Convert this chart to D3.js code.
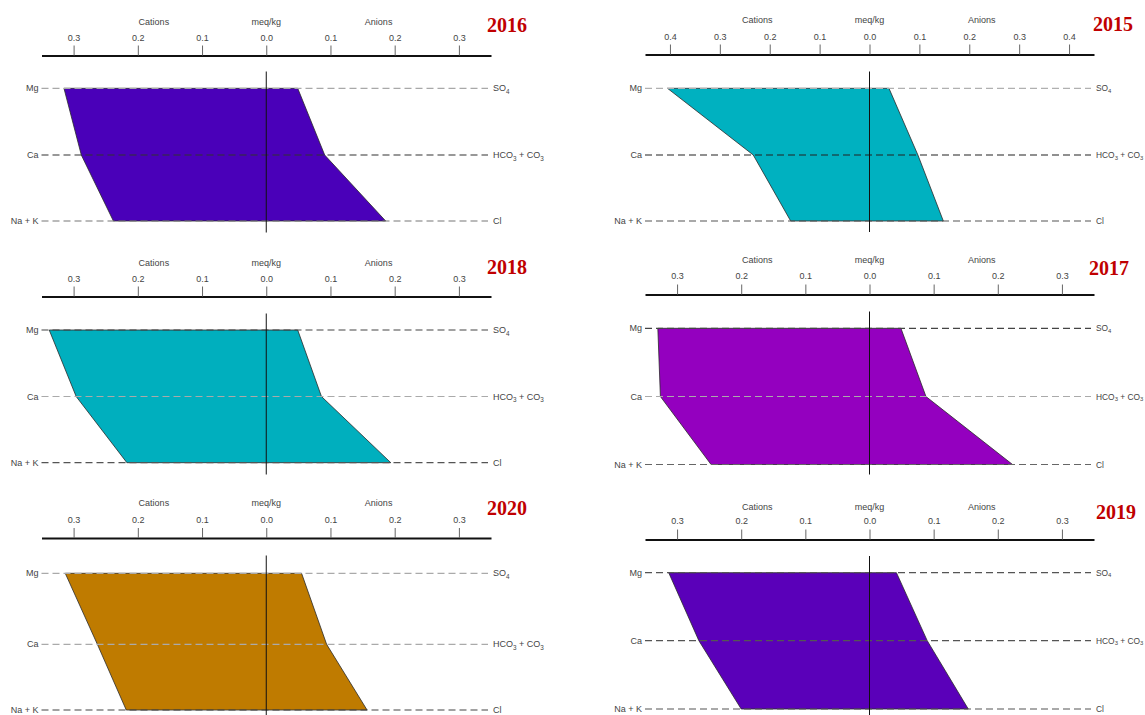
<!DOCTYPE html>
<html>
<head>
<meta charset="utf-8">
<script src="https://cdn.jsdelivr.net/npm/d3@7"></script>
<style>
  html, body { margin: 0; padding: 0; background: #ffffff; }
  svg { display: block; }
</style>
</head>
<body>
<div id="chart"></div>
<script>
// ---------- DATA ----------
const years = ["2016", "2015", "2018", "2017", "2020", "2019"];
const cationNames = ["Mg", "Ca", "Na + K"];
const anionNames = [["SO", "4"], ["HCO", "3", " + CO", "3"], ["Cl"]];
// meq/kg values, order Mg, Ca, Na+K
const cations2016 = [0.315, 0.288, 0.238];
const cations2015 = [0.405, 0.233, 0.158];
const cations2018 = [0.338, 0.296, 0.217];
const cations2017 = [0.330, 0.326, 0.247];
const cations2020 = [0.313, 0.263, 0.218];
const cations2019 = [0.313, 0.266, 0.200];
// order SO4, HCO3+CO3, Cl
const anions2016 = [0.049, 0.091, 0.186];
const anions2015 = [0.039, 0.097, 0.148];
const anions2018 = [0.049, 0.086, 0.194];
const anions2017 = [0.049, 0.088, 0.223];
const anions2020 = [0.055, 0.094, 0.157];
const anions2019 = [0.042, 0.090, 0.154];
const axisMax = [0.35, 0.45, 0.35, 0.35, 0.35, 0.35];
const ticks035 = [-0.3, -0.2, -0.1, 0.0, 0.1, 0.2, 0.3];
const ticks045 = [-0.4, -0.3, -0.2, -0.1, 0.0, 0.1, 0.2, 0.3, 0.4];
const tickSets = [ticks035, ticks045, ticks035, ticks035, ticks035, ticks035];
const cationSets = [cations2016, cations2015, cations2018, cations2017, cations2020, cations2019];
const anionSets = [anions2016, anions2015, anions2018, anions2017, anions2020, anions2019];

// ---------- STYLE / LAYOUT ----------
const fills = ["#4a00b9", "#00b1c0", "#00afbe", "#9400bf", "#bf7b00", "#5a00b9"];
const dashColors = [
  ["#a8a8a8", "#333333", "#777777"],
  ["#b0b0b0", "#222222", "#555555"],
  ["#444444", "#aaaaaa", "#555555"],
  ["#444444", "#aaaaaa", "#666666"],
  ["#aaaaaa", "#aaaaaa", "#444444"],
  ["#555555", "#555555", "#555555"]
];
const layouts = [
  {x0: 41.5, x1: 491, titleX: 507, titleY: 25, labY: 22, tickY: 38, axisY: 55.5, rows: [88.3, 155, 221], vTop: 71.5, vBot: 232.5, fs: 9},
  {x0: 645, x1: 1094, titleX: 1113, titleY: 24, labY: 20, tickY: 36.5, axisY: 54.5, rows: [88.3, 155, 221], vTop: 71.5, vBot: 232, fs: 8.4},
  {x0: 41.5, x1: 491, titleX: 507, titleY: 267, labY: 263, tickY: 279, axisY: 296.5, rows: [330, 396.5, 462.7], vTop: 313.5, vBot: 474.5, fs: 9},
  {x0: 645, x1: 1094, titleX: 1109, titleY: 268, labY: 259.5, tickY: 276, axisY: 294.5, rows: [328.3, 396.5, 464.5], vTop: 311.5, vBot: 474.5, fs: 8.4},
  {x0: 41.5, x1: 491, titleX: 507, titleY: 508, labY: 502.5, tickY: 519.5, axisY: 538, rows: [573.3, 644.3, 710], vTop: 555.5, vBot: 715, fs: 9},
  {x0: 645, x1: 1094, titleX: 1116, titleY: 512, labY: 506.5, tickY: 521, axisY: 539.5, rows: [572.7, 640.7, 709], vTop: 556, vBot: 715, fs: 8.4}
];

const W = 1145, H = 715;
const svg = d3.select("#chart").append("svg")
  .attr("width", W).attr("height", H)
  .attr("viewBox", `0 0 ${W} ${H}`);
svg.append("rect").attr("width", W).attr("height", H).attr("fill", "#ffffff");

const sans = "Liberation Sans, Arial, sans-serif";
const fmt = d3.format(".1f");

years.forEach((yr, i) => {
  const L = layouts[i];
  const m = axisMax[i];
  const x = d3.scaleLinear().domain([-m, m]).range([L.x0, L.x1]);
  const yRow = (k) => L.rows[k];
  const g = svg.append("g").attr("class", "panel-" + yr);

  // Top axis
  const axis = d3.axisTop(x).tickValues(tickSets[i])
    .tickFormat(d => fmt(Math.abs(d))).tickSize(10).tickSizeOuter(0);
  const ax = g.append("g").attr("transform", `translate(0,${L.axisY})`).call(axis);
  ax.select(".domain").attr("stroke", "#111").attr("stroke-width", 2.2);
  ax.selectAll(".tick line").attr("stroke", "#666").attr("stroke-width", 1);
  ax.selectAll(".tick text")
    .attr("font-family", sans).attr("font-size", 9).attr("fill", "#444")
    .attr("y", null).attr("dy", null)
    .attr("transform", `translate(0,${L.tickY - L.axisY})`)
    .attr("dominant-baseline", "central");

  // header labels
  const headers = [["Cations", x(-m / 2)], ["meq/kg", x(0)], ["Anions", x(m / 2)]];
  g.selectAll("text.hdr").data(headers).join("text").attr("class", "hdr")
    .attr("x", d => d[1]).attr("y", L.labY)
    .attr("text-anchor", "middle").attr("dominant-baseline", "central")
    .attr("font-family", sans).attr("font-size", 9).attr("fill", "#444")
    .text(d => d[0]);

  // polygon
  const c = cationSets[i], a = anionSets[i];
  const pts = [
    [x(-c[0]), yRow(0)], [x(a[0]), yRow(0)], [x(a[1]), yRow(1)], [x(a[2]), yRow(2)],
    [x(-c[2]), yRow(2)], [x(-c[1]), yRow(1)]
  ];
  g.append("path")
    .attr("d", d3.line()(pts) + "Z")
    .attr("fill", fills[i]).attr("stroke", "#2a2a2a").attr("stroke-width", 0.8)
    .attr("stroke-linejoin", "miter");

  // dashed row lines
  cationNames.forEach((nm, k) => {
    g.append("line")
      .attr("x1", L.x0).attr("x2", L.x1 - 3)
      .attr("y1", yRow(k)).attr("y2", yRow(k))
      .attr("stroke", dashColors[i][k]).attr("stroke-width", 1.2)
      .attr("stroke-dasharray", "7,4");
  });

  // center line
  g.append("line").attr("x1", x(0)).attr("x2", x(0))
    .attr("y1", L.vTop).attr("y2", L.vBot)
    .attr("stroke", "#111").attr("stroke-width", 1);

  // left labels
  g.selectAll("text.cat").data(cationNames).join("text").attr("class", "cat")
    .attr("x", L.x0 - 3).attr("y", (d, k) => yRow(k))
    .attr("text-anchor", "end").attr("dominant-baseline", "central")
    .attr("font-family", sans).attr("font-size", 9).attr("fill", "#444")
    .text(d => d);

  // right labels with subscripts
  anionNames.forEach((parts, k) => {
    const t = g.append("text")
      .attr("x", L.x1 + 2).attr("y", yRow(k))
      .attr("dominant-baseline", "central")
      .attr("font-family", sans).attr("font-size", L.fs).attr("fill", "#444");
    parts.forEach((p, j) => {
      const sub = j % 2 === 1;
      t.append("tspan")
        .attr("font-size", sub ? L.fs * 0.7 : L.fs)
        .attr("dy", sub ? 2.5 : (j > 0 ? -2.5 : 0))
        .text(p);
    });
  });

  // title
  g.append("text").attr("x", L.titleX).attr("y", L.titleY)
    .attr("text-anchor", "middle").attr("dominant-baseline", "central")
    .attr("font-family", "Liberation Serif, Times New Roman, serif")
    .attr("font-weight", "bold").attr("font-size", 20).attr("fill", "#c00000")
    .text(yr);
});
</script>
</body>
</html>
